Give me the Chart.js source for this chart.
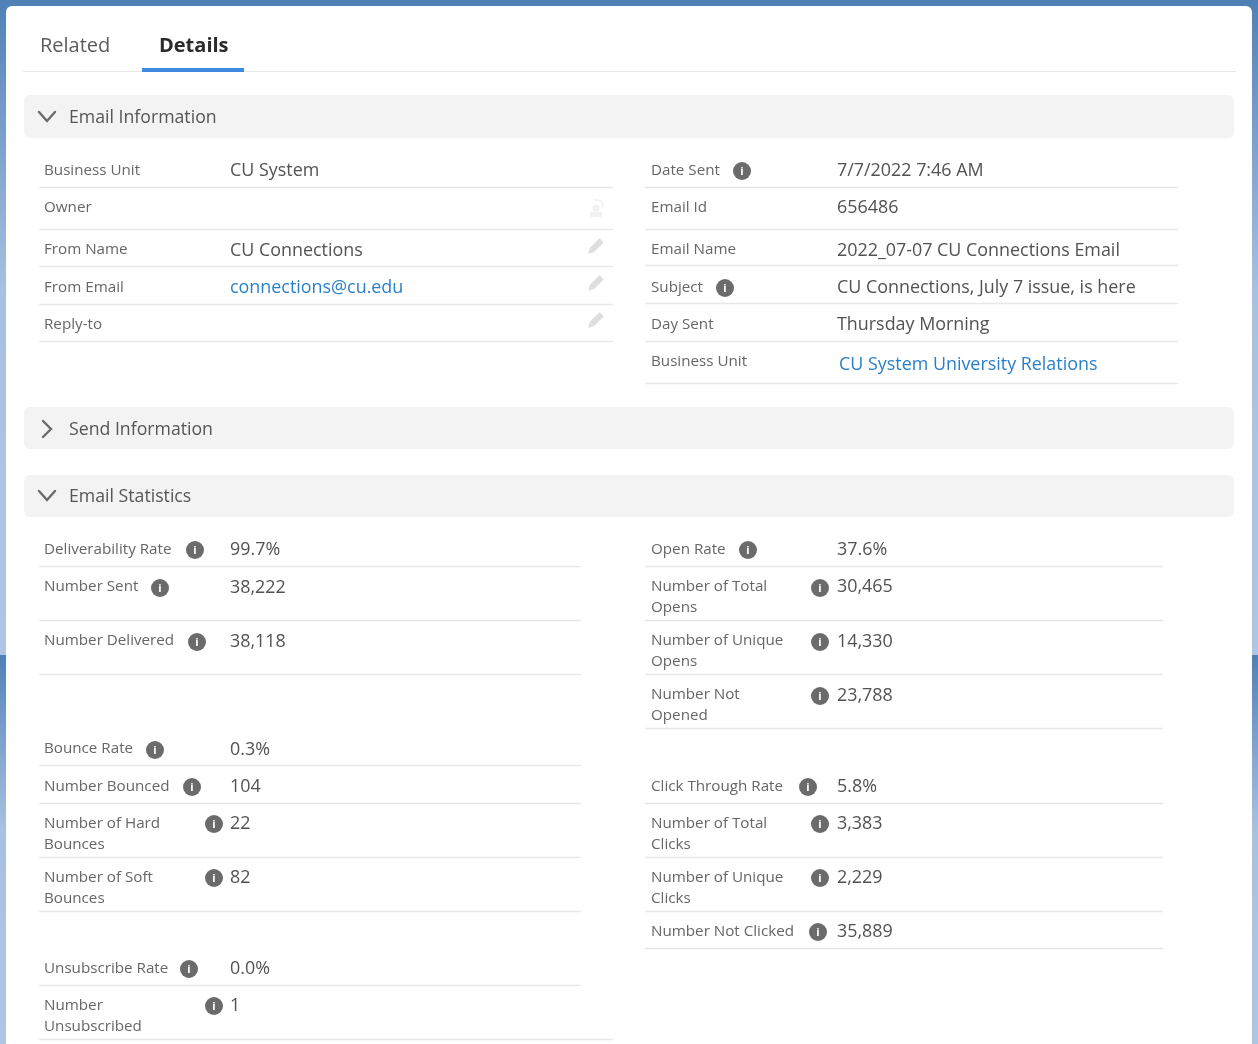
<!DOCTYPE html>
<html>
<head>
<meta charset="utf-8">
<title>Details</title>
<script src="https://cdn.jsdelivr.net/npm/chart.js@4/dist/chart.umd.min.js"></script>
<style>
  html, body { margin: 0; padding: 0; background: #fff; overflow: hidden; }
  canvas { display: block; }
</style>
</head>
<body>
<canvas id="pagina" width="1258" height="1044"></canvas>
<script>
// texts of the record page
const tabs = ['Related', 'Details'];
const sectionTitles = ['Email Information', 'Send Information', 'Email Statistics'];

const infoLeftLabels = ['Business Unit', 'Owner', 'From Name', 'From Email', 'Reply-to'];
const infoLeftValues = ['CU System', '', 'CU Connections', 'connections@cu.edu', ''];
const infoRightLabels = ['Date Sent', 'Email Id', 'Email Name', 'Subject', 'Day Sent', 'Business Unit'];
const infoRightValues = ['7/7/2022 7:46 AM', '656486', '2022_07-07 CU Connections Email',
    'CU Connections, July 7 issue, is here', 'Thursday Morning', 'CU System University Relations'];

const statsLeftLabels = ['Deliverability Rate', 'Number Sent', 'Number Delivered', 'Bounce Rate', 'Number Bounced',
    'Number of Hard|Bounces', 'Number of Soft|Bounces', 'Unsubscribe Rate', 'Number|Unsubscribed'];
const statsLeftValues = ['99.7%', '38,222', '38,118', '0.3%', '104', '22', '82', '0.0%', '1'];
const statsRightLabels = ['Open Rate', 'Number of Total|Opens', 'Number of Unique|Opens', 'Number Not|Opened',
    'Click Through Rate', 'Number of Total|Clicks', 'Number of Unique|Clicks', 'Number Not Clicked'];
const statsRightValues = ['37.6%', '30,465', '14,330', '23,788', '5.8%', '3,383', '2,229', '35,889'];

// layout, page pixels
const infoLeftY = [169, 206, 248, 286, 323];
const infoLeftValueY = [169, 207, 249, 286, 324];
const infoLeftRules = [187, 229, 266, 304, 341];
const infoRightY = [169, 206, 248, 286, 323, 360];
const infoRightValueY = [169, 206, 249, 286, 323, 363];
const infoRightRules = [187, 229, 265, 303, 341, 383];
const statsLeftY = [548, 585, 639, 747, 785, 822, 876, 967, 1004];
const statsLeftValueY = [548, 586, 640, 748, 785, 822, 876, 967, 1004];
const statsLeftRules = [566, 620, 674, 765, 803, 857, 911, 985];
const statsRightY = [548, 585, 639, 693, 785, 822, 876, 930];
const statsRightValueY = [548, 585, 640, 694, 785, 822, 876, 930];
const statsRightRules = [566, 620, 674, 728, 803, 857, 911, 948];
const iconX = [742, 725, 195, 160, 197, 155, 192, 214, 214, 189, 214, 748, 820, 820, 820, 808, 820, 820, 818];
const iconY = [171, 288, 550, 588, 642, 750, 787, 824, 878, 969, 1006, 550, 588, 642, 696, 787, 824, 878, 932];

const FONT = '"Open Sans", "Noto Sans", sans-serif';
const LABEL_FONT = '15.2px ' + FONT;
const VALUE_FONT = '17.9px ' + FONT;
const LINK = '#2a7fc9';

function rule(x1, x2, y) {
    return {
        type: 'scatter',
        data: [{ x: x1, y: y + 0.5 }, { x: x2, y: y + 0.5 }],
        showLine: true,
        borderColor: '#e8e8e8',
        borderWidth: 1.5,
        pointRadius: 0
    };
}

function stripe(ctx, x, w, tramo) {
    const g = ctx.createLinearGradient(0, tramo[0], 0, tramo[1]);
    g.addColorStop(0, '#4e80b6');
    g.addColorStop(0.15, '#6f98c8');
    g.addColorStop(0.45, '#a9c1e1');
    g.addColorStop(1, '#afc5e3');
    ctx.fillStyle = g;
    ctx.fillRect(x, tramo[0], w, tramo[1] - tramo[0]);
}

function box(ctx, x, y, w, h, r, color) {
    ctx.beginPath();
    ctx.roundRect(x, y, w, h, r);
    ctx.fillStyle = color;
    ctx.fill();
}

function chevron(ctx, puntos) {
    ctx.beginPath();
    ctx.moveTo(puntos[0], puntos[1]);
    ctx.lineTo(puntos[2], puntos[3]);
    ctx.lineTo(puntos[4], puntos[5]);
    ctx.strokeStyle = '#6b6b6b';
    ctx.lineWidth = 2.4;
    ctx.lineCap = 'round';
    ctx.stroke();
}

function pencil(ctx, x, y) {
    ctx.save();
    ctx.translate(x, y);
    ctx.rotate(-Math.PI / 4);
    ctx.fillStyle = '#dedede';
    ctx.fillRect(-6, -3, 14, 6);
    ctx.beginPath();
    ctx.moveTo(-6, -3);
    ctx.lineTo(-11, 0);
    ctx.lineTo(-6, 3);
    ctx.fill();
    ctx.restore();
}

function ownerIcon(ctx, x, y) {
    ctx.fillStyle = '#f1f1f1';
    ctx.beginPath();
    ctx.arc(x, y - 1, 3.5, 0, Math.PI * 2);
    ctx.fill();
    ctx.fillRect(x - 6, y + 3, 12, 5);
    ctx.strokeStyle = '#f1f1f1';
    ctx.lineWidth = 1.5;
    ctx.beginPath();
    ctx.arc(x + 1, y - 3, 6, -Math.PI * 0.6, Math.PI * 0.1);
    ctx.stroke();
}

function text(ctx, str, x, y, font, color) {
    ctx.font = font;
    ctx.fillStyle = color;
    ctx.textBaseline = 'middle';
    ctx.textAlign = 'left';
    ctx.fillText(str, x, y + 1.5);
}

function rows(ctx, labels, labelY, values, valueY, labelX, valueX) {
    labels.forEach((label, i) => {
        label.split('|').forEach((linea, j) => {
            text(ctx, linea, labelX, labelY[i] + j * 21, LABEL_FONT, '#666666');
        });
        if (values[i]) {
            const esEnlace = values[i].startsWith('connections@') || values[i].endsWith('Relations');
            text(ctx, values[i], valueX + (values[i].endsWith('Relations') ? 2 : 0), valueY[i], VALUE_FONT, esEnlace ? LINK : '#525252');
        }
    });
}

const pagePlugin = {
    id: 'pagePlugin',
    beforeDatasetsDraw(chart) {
        const ctx = chart.ctx;
        stripe(ctx, 0, 1258, [0, 655]);
        stripe(ctx, 0, 1258, [655, 1044]);
        box(ctx, 6, 6, 1246, 1060, 6, '#ffffff');
        box(ctx, 24, 95, 1210, 43, 6, '#f3f3f3');
        box(ctx, 24, 407, 1210, 42, 6, '#f3f3f3');
        box(ctx, 24, 475, 1210, 42, 6, '#f3f3f3');
        ctx.fillStyle = '#e6e6e6';
        ctx.fillRect(23, 71, 1213, 1);
        ctx.fillStyle = '#3f8ae0';
        ctx.fillRect(142, 68, 102, 4);
    },
    afterDatasetsDraw(chart) {
        const ctx = chart.ctx;
        text(ctx, tabs[0], 40, 45, '20px ' + FONT, '#5c5c5c');
        text(ctx, tabs[1], 159, 45, 'bold 20px ' + FONT, '#2b2b2b');
        text(ctx, sectionTitles[0], 69, 116, '17.7px ' + FONT, '#555555');
        text(ctx, sectionTitles[1], 69, 428, '17.7px ' + FONT, '#555555');
        text(ctx, sectionTitles[2], 69, 495, '17.7px ' + FONT, '#555555');
        chevron(ctx, [39, 112, 47, 121, 55, 112]);
        chevron(ctx, [43, 421, 51, 429, 43, 437]);
        chevron(ctx, [39, 491, 47, 500, 55, 491]);

        rows(ctx, infoLeftLabels, infoLeftY, infoLeftValues, infoLeftValueY, 44, 230);
        rows(ctx, infoRightLabels, infoRightY, infoRightValues, infoRightValueY, 651, 837);
        rows(ctx, statsLeftLabels, statsLeftY, statsLeftValues, statsLeftValueY, 44, 230);
        rows(ctx, statsRightLabels, statsRightY, statsRightValues, statsRightValueY, 651, 837);

        ownerIcon(ctx, 596, 209);
        pencil(ctx, 596, 246);
        pencil(ctx, 596, 283);
        pencil(ctx, 596, 320);

        ctx.textAlign = 'center';
        iconX.forEach((x, i) => {
            ctx.font = 'bold 11px ' + FONT;
            ctx.fillStyle = '#ffffff';
            ctx.textBaseline = 'middle';
            ctx.fillText('i', x, iconY[i] + 0.5);
        });
        ctx.textAlign = 'left';
    }
};

const ruleSets = [
    ...infoLeftRules.map(y => rule(39, 613, y)),
    ...infoRightRules.map(y => rule(645, 1178, y)),
    ...statsLeftRules.map(y => rule(39, 581, y)),
    rule(39, 613, 1039),
    ...statsRightRules.map(y => rule(645, 1163, y))
];

document.addEventListener('DOMContentLoaded', () => {
    new Chart(document.getElementById('pagina').getContext('2d'), {
        type: 'scatter',
        data: {
            datasets: [
                ...ruleSets,
                {
                    data: iconX.map((x, i) => ({ x: x, y: iconY[i] })),
                    pointStyle: 'circle',
                    pointRadius: 9,
                    pointBackgroundColor: '#6b6b6b',
                    pointBorderWidth: 0
                }
            ]
        },
        options: {
            responsive: false,
            animation: false,
            events: [],
            layout: { padding: 0, autoPadding: false },
            plugins: { legend: { display: false }, tooltip: { enabled: false } },
            scales: {
                x: { type: 'linear', display: false, min: 0, max: 1258 },
                y: { type: 'linear', display: false, min: 0, max: 1044, reverse: true }
            }
        },
        plugins: [pagePlugin]
    });
});
</script>
</body>
</html>
